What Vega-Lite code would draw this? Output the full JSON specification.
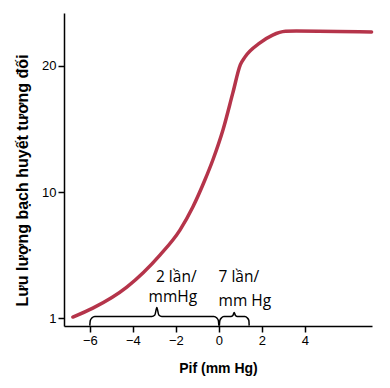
{
  "$schema": "https://vega.github.io/schema/vega-lite/v6.json",
  "autosize": "none",
  "width": 308,
  "height": 313,
  "padding": {"left": 64, "top": 13, "right": 18, "bottom": 62},
  "background": "white",
  "config": {
    "view": {"stroke": null},
    "axis": {
      "grid": false,
      "domainColor": "#000",
      "domainWidth": 1.5,
      "tickColor": "#000",
      "tickWidth": 1.5,
      "tickSize": 6,
      "labelFont": "Liberation Sans",
      "labelFontSize": 13,
      "labelColor": "#000",
      "titleFont": "Liberation Sans",
      "titleColor": "#000",
      "titleFontWeight": "bold"
    }
  },
  "datasets": {
    "curve": [
      {"p": -6.79, "flow": 0.08},
      {"p": -5.86, "flow": 0.79},
      {"p": -4.28, "flow": 2.46},
      {"p": -2.74, "flow": 5.0},
      {"p": -1.81, "flow": 6.98},
      {"p": -1.21, "flow": 8.81},
      {"p": -0.65, "flow": 10.95},
      {"p": -0.28, "flow": 12.54},
      {"p": 0.19, "flow": 14.92},
      {"p": 0.65, "flow": 17.86},
      {"p": 1.0, "flow": 20.1},
      {"p": 1.21, "flow": 20.7},
      {"p": 1.91, "flow": 21.83},
      {"p": 2.5, "flow": 22.45},
      {"p": 3.1, "flow": 22.75},
      {"p": 3.6, "flow": 22.78},
      {"p": 7.1, "flow": 22.7}
    ],
    "braces": [
      {"b": "a", "i": 0, "p": -6.0, "flow": -0.6},
      {"b": "a", "i": 1, "p": -5.977, "flow": -0.2},
      {"b": "a", "i": 2, "p": -5.907, "flow": 0.0},
      {"b": "a", "i": 3, "p": -5.767, "flow": 0.12},
      {"b": "a", "i": 4, "p": -3.116, "flow": 0.12},
      {"b": "a", "i": 5, "p": -2.977, "flow": 0.24},
      {"b": "a", "i": 6, "p": -2.884, "flow": 0.83},
      {"b": "a", "i": 7, "p": -2.791, "flow": 0.24},
      {"b": "a", "i": 8, "p": -2.651, "flow": 0.12},
      {"b": "a", "i": 9, "p": -0.233, "flow": 0.12},
      {"b": "a", "i": 10, "p": -0.093, "flow": 0.0},
      {"b": "a", "i": 11, "p": -0.023, "flow": -0.2},
      {"b": "a", "i": 12, "p": 0.0, "flow": -0.6},
      {"b": "b", "i": 0, "p": 0.023, "flow": -0.6},
      {"b": "b", "i": 1, "p": 0.047, "flow": -0.2},
      {"b": "b", "i": 2, "p": 0.116, "flow": 0.0},
      {"b": "b", "i": 3, "p": 0.233, "flow": 0.12},
      {"b": "b", "i": 4, "p": 0.558, "flow": 0.12},
      {"b": "b", "i": 5, "p": 0.651, "flow": 0.2},
      {"b": "b", "i": 6, "p": 0.712, "flow": 0.44},
      {"b": "b", "i": 7, "p": 0.772, "flow": 0.2},
      {"b": "b", "i": 8, "p": 0.86, "flow": 0.12},
      {"b": "b", "i": 9, "p": 1.209, "flow": 0.12},
      {"b": "b", "i": 10, "p": 1.326, "flow": 0.0},
      {"b": "b", "i": 11, "p": 1.395, "flow": -0.2},
      {"b": "b", "i": 12, "p": 1.409, "flow": -0.6}
    ],
    "labels": [
      {"t": "2 lần/", "p": -1.98, "flow": 2.9},
      {"t": "mmHg", "p": -2.14, "flow": 1.3},
      {"t": "7 lần/", "p": 0.93, "flow": 2.9},
      {"t": "mm Hg", "p": 1.21, "flow": 0.95}
    ]
  },
  "layer": [
    {
      "data": {"name": "curve"},
      "mark": {"type": "line", "color": "#b5344a", "strokeWidth": 3.5, "interpolate": "monotone", "strokeCap": "round"},
      "encoding": {
        "x": {
          "field": "p", "type": "quantitative",
          "scale": {"domain": [-7.2, 7.12], "nice": false, "zero": false},
          "axis": {"values": [-6, -4, -2, 0, 2, 4], "title": "Pif (mm Hg)", "titleFontSize": 14, "titlePadding": 14}
        },
        "y": {
          "field": "flow", "type": "quantitative",
          "scale": {"domain": [-0.63, 24.2], "nice": false, "zero": false},
          "axis": {
            "values": [0, 10, 20],
            "labelExpr": "datum.value == 0 ? '1' : datum.label",
            "title": "Lưu lượng bạch huyết tương đối",
            "titleFontSize": 16,
            "titleX": -42,
            "titleY": 167,
            "titleAngle": -90,
            "titleAlign": "center",
            "titleBaseline": "middle"
          }
        }
      }
    },
    {
      "data": {"name": "braces"},
      "mark": {"type": "line", "color": "#000", "strokeWidth": 1.5, "interpolate": "monotone"},
      "encoding": {
        "x": {"field": "p", "type": "quantitative"},
        "y": {"field": "flow", "type": "quantitative"},
        "detail": {"field": "b"},
        "order": {"field": "i"}
      }
    },
    {
      "data": {"name": "labels"},
      "mark": {"type": "text", "font": "Open Sans", "fontSize": 15.5, "color": "#000", "align": "center", "baseline": "alphabetic"},
      "encoding": {
        "x": {"field": "p", "type": "quantitative"},
        "y": {"field": "flow", "type": "quantitative"},
        "text": {"field": "t"}
      }
    }
  ]
}
